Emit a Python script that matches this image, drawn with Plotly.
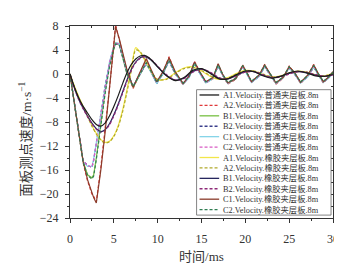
import plotly.graph_objects as go

# ---------------- data ----------------
NAMES = [
    "A1.Velocity.普通夹层板.8m", "A2.Velocity.普通夹层板.8m",
    "B1.Velocity.普通夹层板.8m", "B2.Velocity.普通夹层板.8m",
    "C1.Velocity.普通夹层板.8m", "C2.Velocity.普通夹层板.8m",
    "A1.Velocity.橡胶夹层板.8m", "A2.Velocity.橡胶夹层板.8m",
    "B1.Velocity.橡胶夹层板.8m", "B2.Velocity.橡胶夹层板.8m",
    "C1.Velocity.橡胶夹层板.8m", "C2.Velocity.橡胶夹层板.8m",
]

# time (ms) for the fast-oscillating responses
T_FAST = [0, 0.5, 1.0, 1.5, 2.0, 2.5, 2.7, 3.0, 3.5, 4.0, 4.5, 5.0, 5.2, 5.6, 6.0, 6.5,
          7.2, 8.0, 8.7, 9.3, 9.9, 10.6, 11.3, 12.0, 12.9, 13.6, 14.2, 14.8, 15.5, 16.3,
          16.9, 17.4, 18.0, 18.9, 19.7, 20.2, 20.7, 21.6, 22.2, 22.8, 23.5, 24.3, 25.0,
          25.6, 26.3, 27.1, 27.8, 28.3, 28.9, 29.5, 30.0]

# time (ms) for the smooth responses
T_SLOW = [0, 0.5, 1, 1.5, 2, 2.5, 3, 3.5, 4, 4.5, 5, 5.5, 6, 6.5, 7, 7.5, 8, 8.5, 9, 9.5,
          10, 11, 12, 13, 14, 15, 16, 17, 18, 19, 20, 21, 22, 23, 24, 25, 26, 27, 28, 29, 30]

A1_PT = [0, -2.2, -4.0, -5.4, -6.5, -7.6, -8.4, -8.7, -8.2, -7.0, -5.4, -3.6, -1.6, 0.2, 1.6,
         2.5, 3.0, 3.1, 2.7, 2.0, 1.2, -0.3, -1.1, -0.6, 0.6, 0.9, 0.1, -0.8, -0.8, -0.1,
         0.5, 0.4, -0.3, -0.7, -0.4, 0.2, 0.5, 0.2, -0.3, -0.4, 0.0]
A2_PT = [0, -5.2, -10.2, -14.8, -17.8, -20.0, -20.4, -21.3, -15.8, -9.4, -2.4, 5.0, 8.2, 5.8,
         3.2, 0.5, -2.4, 0.3, 2.4, 0.4, -1.5, 0.2, 2.9, 0.2, -1.8, -0.4, 2.1, 0.3, -1.5, -0.8,
         1.6, -0.2, -1.7, -0.9, 1.5, 0.1, -1.4, -0.2, 1.6, 0.0, -1.7, -0.7, 1.3, 0.2, -1.6,
         -0.3, 1.6, 0.0, -1.5, -0.6, 0.3]
B1_PT = [0, -5.0, -10.0, -14.6, -16.8, -17.3, -16.8, -14.0, -8.5, -3.0, 1.5, 4.5, 5.2, 5.0,
         2.8, 0.0, -2.2, 0.0, 1.8, 0.2, -1.5, 0.0, 2.4, 0.1, -1.6, -0.5, 1.7, 0.2, -1.4, -0.7,
         1.4, -0.1, -1.5, -0.8, 1.3, 0.0, -1.3, -0.3, 1.3, 0.0, -1.5, -0.6, 1.1, 0.1, -1.4,
         -0.4, 1.3, 0.0, -1.3, -0.6, 0.2]
B2_PT = [0, -5.1, -10.1, -14.5, -15.2, -15.6, -14.4, -11.8, -6.8, -2.0, 1.8, 4.4, 5.0, 5.0,
         3.1, 0.4, -2.0, 0.1, 1.7, 0.2, -1.6, 0.1, 2.1, 0.0, -1.6, -0.5, 1.7, 0.1, -1.5, -0.7,
         1.3, -0.2, -1.5, -0.8, 1.2, 0.0, -1.4, -0.4, 1.2, -0.1, -1.5, -0.6, 1.0, 0.0, -1.4,
         -0.5, 1.1, -0.1, -1.4, -0.6, 0.1]
C1_PT = [0, -5.0, -10.0, -14.6, -15.4, -15.4, -14.2, -11.5, -6.5, -1.8, 2.0, 4.6, 5.2, 5.1,
         3.0, 0.3, -2.0, 0.0, 1.8, 0.1, -1.6, 0.0, 2.2, 0.0, -1.7, -0.6, 1.8, 0.1, -1.5, -0.8,
         1.4, -0.2, -1.6, -0.8, 1.2, -0.1, -1.4, -0.4, 1.3, -0.1, -1.6, -0.7, 1.0, 0.0, -1.5,
         -0.5, 1.2, -0.1, -1.4, -0.7, 0.1]
C2_PT = [0, -4.9, -9.9, -14.4, -15.3, -15.5, -14.3, -11.6, -6.6, -1.9, 1.9, 4.5, 5.1, 5.0,
         2.9, 0.2, -2.1, 0.1, 1.9, 0.2, -1.5, 0.1, 2.3, 0.1, -1.6, -0.5, 1.9, 0.2, -1.4, -0.7,
         1.5, -0.1, -1.5, -0.7, 1.3, 0.0, -1.3, -0.3, 1.4, 0.0, -1.5, -0.6, 1.1, 0.1, -1.4,
         -0.4, 1.3, 0.0, -1.3, -0.6, 0.2]
A1_RB = [0, -2.0, -3.8, -5.4, -7.0, -8.6, -9.9, -10.9, -11.4, -11.2, -10.3, -8.6, -6.0, -2.6,
         1.0, 4.4, 3.6, 2.4, 1.1, -0.2, -1.0, -0.8, 0.2, 1.0, 1.2, 0.5, -0.4, -0.9, -0.6, 0.1,
         0.6, 0.5, -0.1, -0.5, -0.3, 0.2, 0.5, 0.3, -0.2, -0.3, 0.1]
A2_RB = [0, -2.1, -3.9, -5.5, -7.1, -8.7, -10.0, -11.0, -11.5, -11.3, -10.4, -8.8, -6.3, -3.0,
         0.6, 4.0, 3.7, 2.5, 1.2, -0.1, -0.9, -0.9, 0.1, 0.9, 1.1, 0.6, -0.3, -0.8, -0.7, 0.0,
         0.5, 0.5, 0.0, -0.5, -0.4, 0.1, 0.4, 0.3, -0.1, -0.3, 0.0]
B1_RB = [0, -2.3, -4.2, -5.7, -7.0, -8.2, -9.1, -9.6, -9.3, -8.3, -6.8, -5.0, -3.0, -1.0, 0.8,
         2.0, 2.7, 2.9, 2.6, 2.0, 1.2, -0.2, -1.0, -0.7, 0.4, 0.8, 0.2, -0.7, -0.8, -0.2, 0.4,
         0.4, -0.2, -0.6, -0.4, 0.1, 0.4, 0.2, -0.2, -0.4, -0.1]
B2_RB = [0, -2.4, -4.3, -5.8, -7.1, -8.3, -9.2, -9.7, -9.4, -8.5, -7.0, -5.2, -3.2, -1.2, 0.6,
         1.9, 2.6, 2.9, 2.7, 2.1, 1.3, -0.1, -1.0, -0.8, 0.3, 0.8, 0.3, -0.6, -0.8, -0.3, 0.3,
         0.4, -0.1, -0.6, -0.5, 0.0, 0.4, 0.3, -0.1, -0.4, -0.2]
C1_RB = [0, -5.0, -10.0, -14.6, -17.6, -19.8, -20.6, -21.5, -16.2, -9.8, -2.8, 4.6, 7.9, 6.0,
         3.4, 0.7, -2.2, 0.5, 2.6, 0.6, -1.3, 0.4, 2.7, 0.4, -1.6, -0.3, 2.0, 0.4, -1.3, -0.6,
         1.7, 0.0, -1.5, -0.8, 1.4, 0.2, -1.3, -0.1, 1.5, 0.1, -1.5, -0.6, 1.2, 0.3, -1.4,
         -0.2, 1.5, 0.1, -1.3, -0.5, 0.4]
C2_RB = [0, -5.1, -10.1, -14.7, -16.9, -17.5, -17.0, -14.3, -8.8, -3.3, 1.2, 4.3, 5.0, 4.9,
         2.9, 0.1, -2.1, 0.1, 1.9, 0.3, -1.4, 0.1, 2.3, 0.2, -1.5, -0.4, 1.8, 0.3, -1.3, -0.6,
         1.5, 0.0, -1.4, -0.7, 1.4, 0.1, -1.2, -0.2, 1.4, 0.1, -1.4, -0.5, 1.2, 0.2, -1.3,
         -0.3, 1.4, 0.1, -1.2, -0.5, 0.3]

SERIES = [
    (T_SLOW, A1_PT), (T_FAST, A2_PT), (T_FAST, B1_PT), (T_FAST, B2_PT),
    (T_FAST, C1_PT), (T_FAST, C2_PT), (T_SLOW, A1_RB), (T_SLOW, A2_RB),
    (T_SLOW, B1_RB), (T_SLOW, B2_RB), (T_FAST, C1_RB), (T_FAST, C2_RB),
]

X_TICKS = [0, 5, 10, 15, 20, 25, 30]
Y_TICKS = [-24, -20, -16, -12, -8, -4, 0, 4, 8]
X_TITLE = "时间/ms"
Y_TITLE = "面板测点速度/m·s<sup>−1</sup>"

# ---------------- styles ----------------
COLORS = ["#1c1c1c", "#e0393a", "#78c043", "#3a3f8c", "#86d4e8", "#d85ac4",
          "#f2e64a", "#b0a82a", "#26265e", "#8e2a78", "#8a3b2a", "#2f7d52"]
DASHES = ["solid", "3px,2px"] * 6

W, H = 342, 269
ML, MR, MT, MB = 62, 12, 11, 59
PW, PH = W - ML - MR, H - MT - MB

def px(xp):
    return (xp - ML) / PW

def py(yp):
    return (H - MB - yp) / PH

SERIF = "Liberation Serif, Times New Roman, Noto Sans CJK SC, serif"
INK = "#333333"

fig = go.Figure()
for i, ((t, v), name, c, d) in enumerate(zip(SERIES, NAMES, COLORS, DASHES)):
    fast = t is T_FAST
    fig.add_trace(go.Scatter(
        x=t, y=v, mode="lines", name=name, showlegend=False,
        xaxis="x2" if i == 0 else "x", yaxis="y2" if i == 0 else "y",
        line=dict(color=c, width=1.2, dash=d,
                  shape="linear" if fast else "spline",
                  smoothing=0.8 if not fast else None),
    ))

# manual legend (the library's own legend enforces a min row height)
shapes = [dict(type="rect", xref="paper", yref="paper",
               x0=px(191), x1=px(328), y0=py(207), y1=py(77),
               line=dict(color="#666666", width=0.8), fillcolor="white", layer="above")]
annotations = []
for i, (name, c, d) in enumerate(zip(NAMES, COLORS, DASHES)):
    yc = 82.5 + i * 10.8
    shapes.append(dict(type="line", xref="paper", yref="paper",
                       x0=px(194), x1=px(214), y0=py(yc), y1=py(yc),
                       line=dict(color=c, width=1.3, dash=d), layer="above"))
    annotations.append(dict(xref="paper", yref="paper", x=px(215.5), y=py(yc),
                            text=name, showarrow=False, xanchor="left", yanchor="middle",
                            font=dict(size=8.3, color=INK, family=SERIF)))

# y-axis title placed as in the reference (slightly below the plot centre)
annotations.append(dict(xref="paper", yref="paper", x=px(17), y=py(128),
                        text=Y_TITLE, showarrow=False, textangle=-90,
                        xanchor="center", yanchor="middle",
                        font=dict(size=13.5, color=INK, family=SERIF)))

axis_common = dict(showgrid=False, zeroline=False, showline=True, linecolor=INK,
                   linewidth=1, ticks="outside", ticklen=4, tickcolor=INK,
                   tickfont=dict(size=12, color=INK, family=SERIF))

fig.update_layout(
    width=W, height=H,
    margin=dict(l=ML, r=MR, t=MT, b=MB),
    paper_bgcolor="white", plot_bgcolor="white",
    font=dict(family=SERIF, color=INK),
    showlegend=False,
    shapes=shapes, annotations=annotations,
    xaxis=dict(range=[0, 30], tickvals=X_TICKS, mirror=True,
               minor=dict(dtick=2.5, ticks="outside", ticklen=2, tickcolor=INK),
               ticklabelstandoff=6,
               title=dict(text=X_TITLE, font=dict(size=13, family=SERIF), standoff=6),
               **axis_common),
    yaxis=dict(range=[-24, 8], tickvals=Y_TICKS, mirror=True,
               minor=dict(dtick=2, ticks="outside", ticklen=2, tickcolor=INK),
               ticklabelstandoff=4,
               **axis_common),
    xaxis2=dict(range=[0, 30], overlaying="x", side="top", anchor="y2", tickvals=X_TICKS,
                ticks="inside", ticklen=4, tickcolor=INK, showticklabels=False,
                showgrid=False, zeroline=False, showline=False,
                minor=dict(dtick=2.5, ticks="inside", ticklen=2, tickcolor=INK)),
    yaxis2=dict(range=[-24, 8], overlaying="y", side="right", anchor="x2", tickvals=Y_TICKS,
                ticks="inside", ticklen=4, tickcolor=INK, showticklabels=False,
                showgrid=False, zeroline=False, showline=False,
                minor=dict(dtick=2, ticks="inside", ticklen=2, tickcolor=INK)),
)

fig.write_html("out.html")
